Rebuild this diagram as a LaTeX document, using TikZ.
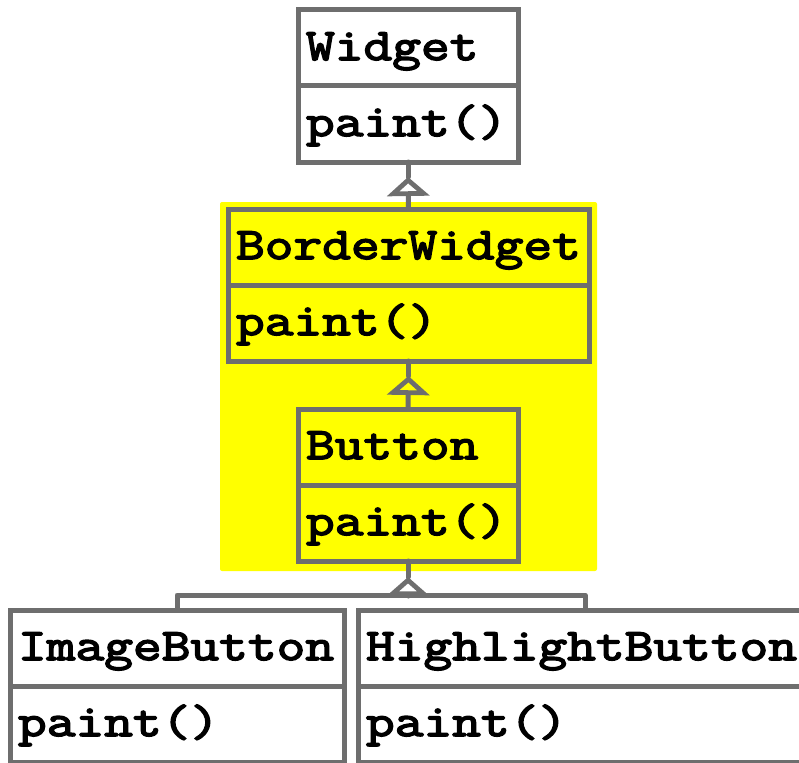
\documentclass[tikz,border=0pt]{standalone}
\usepackage{fontspec}
\newfontfamily\umlfont[FakeStretch=1.24, FakeBold=3.5]{Latin Modern Mono}
\usetikzlibrary{arrows.meta, positioning, calc}
\definecolor{umlgray}{rgb}{0.43, 0.43, 0.43}
\definecolor{umlyellow}{rgb}{1, 1, 0}

\begin{document}
\begin{tikzpicture}[x=1pt, y=-1pt,
    cls/.style={draw=umlgray, line width=5pt, outer sep=0pt, inner xsep=8pt, inner ysep=0pt,
        minimum height=76pt, text height=36pt, text depth=12pt, align=left,
        font=\umlfont\fontsize{45}{50}\selectfont},
    link/.style={draw=umlgray, line width=5pt, line cap=round, line join=round},
    inherit/.style={link, -{Triangle[length=19pt, width=42pt, fill=#1]}}]
    \useasboundingbox (0, 0) rectangle (799, 762);
    \clip (0, 0) rectangle (799, 762);
    \fill[umlyellow, rounded corners=2pt] (220, 202) rectangle (597, 571);

    \node[cls, anchor=north west, text width=204pt] (Widget) at (298, 10) {Widget};
    \node[cls, text width=204pt, below=0 of Widget] (WidgetOp) {paint()};
    \node[cls, anchor=north west, text width=345pt] (BorderWidget) at (228, 209) {BorderWidget};
    \node[cls, text width=345pt, below=0 of BorderWidget] (BorderWidgetOp) {paint()};
    \node[cls, anchor=north west, text width=204pt] (Button) at (298, 409) {Button};
    \node[cls, text width=204pt, below=0 of Button] (ButtonOp) {paint()};
    \node[cls, anchor=north west, text width=318pt] (ImageButton) at (10, 610) {ImageButton};
    \node[cls, text width=318pt, below=0 of ImageButton] (ImageButtonOp) {paint()};
    \node[cls, anchor=north west, text width=438pt] (HighlightButton) at (358, 610) {HighlightButton};
    \node[cls, text width=438pt, below=0 of HighlightButton] (HighlightButtonOp) {paint()};

    \draw[link] (WidgetOp.south) -- ++(0, 15);
    \draw[inherit=white] (BorderWidget.north) -- ($(WidgetOp.south) + (0, 15)$);
    \draw[link] (BorderWidgetOp.south) -- ++(0, 15);
    \draw[inherit=umlyellow] (Button.north) -- ($(BorderWidgetOp.south) + (0, 15)$);
    \draw[link] (ImageButton.north) -- ++(0, -15) -| (HighlightButton.north);
    \draw[link] (ButtonOp.south) -- ++(0, 16);
    \draw[inherit=white] ($(ButtonOp.south) + (0, 35)$) -- ($(ButtonOp.south) + (0, 16)$);
\end{tikzpicture}
\end{document}
